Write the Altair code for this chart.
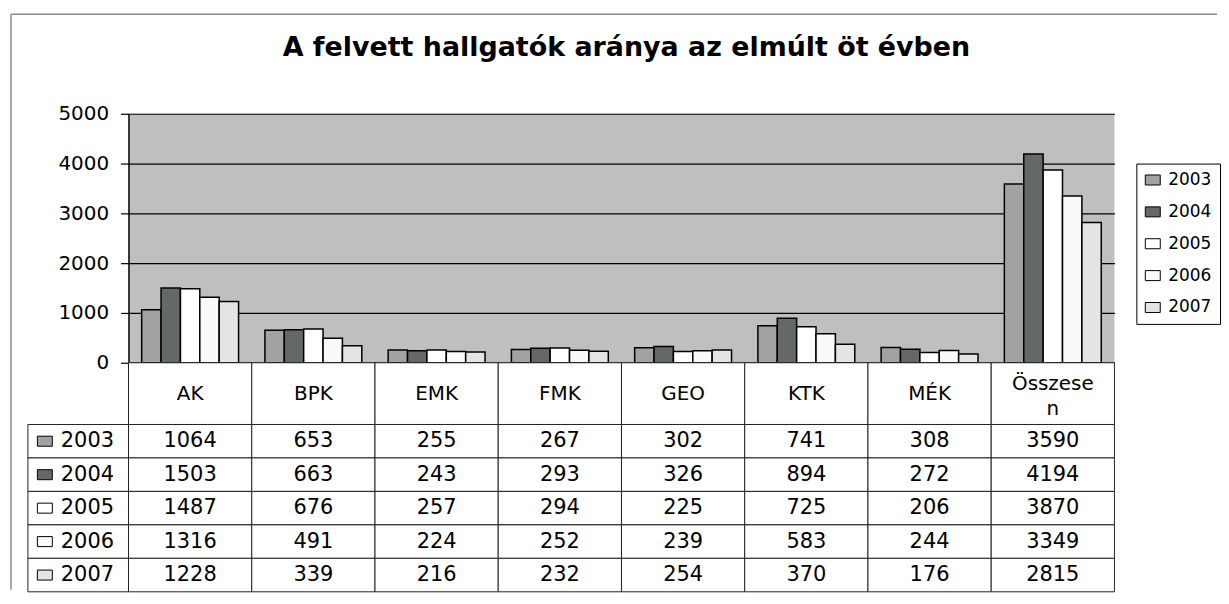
import altair as alt
import pandas as pd

# ---- data ----
categories = ["AK", "BPK", "EMK", "FMK", "GEO", "KTK", "MÉK", "Összesen"]
header_labels = ["AK", "BPK", "EMK", "FMK", "GEO", "KTK", "MÉK", "Összese\nn"]
years = ["2003", "2004", "2005", "2006", "2007"]
v2003 = [1064, 653, 255, 267, 302, 741, 308, 3590]
v2004 = [1503, 663, 243, 293, 326, 894, 272, 4194]
v2005 = [1487, 676, 257, 294, 225, 725, 206, 3870]
v2006 = [1316, 491, 224, 252, 239, 583, 244, 3349]
v2007 = [1228, 339, 216, 232, 254, 370, 176, 2815]
y_ticks = [0, 1000, 2000, 3000, 4000, 5000]
title_text = "A felvett hallgatók aránya az elmúlt öt évben"

# ---- styles ----
colors = ["#a2a2a2", "#656966", "#ffffff", "#fafafa", "#e4e4e4"]
FONT = "DejaVu Sans"
W = 990
SWATCH = "M-1,-0.67L1,-0.67L1,0.67L-1,0.67Z"

series = [v2003, v2004, v2005, v2006, v2007]
rows = []
for yr, vals in zip(years, series):
    for c, v in zip(categories, vals):
        rows.append({"kar": c, "ev": yr, "fo": v})
df = pd.DataFrame(rows)
hdr = pd.DataFrame({"kar": categories, "label": header_labels})
years_df = pd.DataFrame({"ev": years})
one = pd.DataFrame({"k": [0]})

x_scale = alt.Scale(domain=categories, paddingInner=0, paddingOuter=0)
color_scale = alt.Scale(domain=years, range=colors)
y_rows = alt.Y("ev:N", scale=alt.Scale(domain=years, paddingInner=0, paddingOuter=0), axis=None)

bars = alt.Chart(df).mark_bar(stroke="black", strokeWidth=1.5).encode(
    x=alt.X("kar:N", scale=x_scale, sort=categories,
            axis=alt.Axis(labels=False, ticks=False, title=None, grid=False,
                          domainColor="black", domainWidth=1.5)),
    xOffset=alt.XOffset("ev:N", scale=alt.Scale(domain=years, paddingInner=0, paddingOuter=0.68)),
    y=alt.Y("fo:Q", scale=alt.Scale(domain=[0, 5000], nice=False),
            axis=alt.Axis(values=y_ticks, format="d", title=None, grid=True,
                          gridColor="black", gridWidth=1.2, gridOpacity=1,
                          domainColor="black", domainWidth=1.5,
                          tickColor="black", tickSize=8, tickWidth=1.2,
                          labelPadding=12, labelFont=FONT, labelFontSize=20,
                          labelColor="black")),
    color=alt.Color("ev:N", scale=color_scale,
                    legend=alt.Legend(title=None, orient="none", legendX=1012, legendY=50,
                                      direction="vertical",
                                      symbolType=SWATCH, symbolSize=225,
                                      symbolStrokeColor="black", symbolStrokeWidth=1,
                                      symbolOpacity=1,
                                      labelFont=FONT, labelFontSize=17, labelColor="black",
                                      labelOffset=7, rowPadding=14,
                                      strokeColor="black", padding=8, fillColor="white")),
).properties(
    width=W, height=250,
    title=alt.TitleParams(text=title_text, font=FONT, fontSize=27, fontWeight="bold",
                          color="black", anchor="middle", frame="group", offset=42, dx=5),
    view=alt.ViewBackground(fill="#bfbfbf", strokeWidth=0),
)

x_tab = alt.X("kar:N", scale=x_scale, sort=categories, axis=None)

header_cells = alt.Chart(hdr).mark_rect(fill="white", stroke="#222", strokeWidth=1).encode(x=x_tab)
header_single = alt.Chart(hdr).transform_filter(
    "indexof(datum.label, '\\n') < 0"
).mark_text(font=FONT, fontSize=20, color="black").encode(x=x_tab, text="label:N")
header_multi = alt.Chart(hdr).transform_filter(
    "indexof(datum.label, '\\n') >= 0"
).mark_text(font=FONT, fontSize=20, color="black", lineBreak="\n", lineHeight=25, dy=-10).encode(
    x=x_tab, text="label:N")
header = alt.layer(header_cells, header_single, header_multi).properties(width=W, height=62)

cells = alt.Chart(df).mark_rect(fill="white", stroke="#222", strokeWidth=1).encode(x=x_tab, y=y_rows)
nums = alt.Chart(df).mark_text(font=FONT, fontSize=21, color="black").encode(
    x=x_tab, y=y_rows, text=alt.Text("fo:Q", format="d"))
label_cells = alt.Chart(years_df).mark_rect(fill="white", stroke="#222", strokeWidth=1).encode(
    x=alt.value(-101), x2=alt.value(0), y=y_rows)
swatches = alt.Chart(years_df).mark_point(shape=SWATCH, filled=True, size=225, stroke="black",
                                          strokeWidth=1, opacity=1).encode(
    x=alt.value(-84), y=y_rows, fill=alt.Fill("ev:N", scale=color_scale, legend=None))
year_labels = alt.Chart(years_df).mark_text(font=FONT, fontSize=21, color="black", align="left").encode(
    x=alt.value(-68), y=y_rows, text="ev:N")
frame_v = alt.Chart(one).mark_rule(color="#8a8a8a", strokeWidth=1.5).encode(
    x=alt.value(-118), y=alt.value(-412), y2=alt.value(166))
frame_h = alt.Chart(one).mark_rule(color="#8a8a8a", strokeWidth=1.5).encode(
    x=alt.value(-118), x2=alt.value(1093), y=alt.value(-412))
table = alt.layer(cells, nums, label_cells, swatches, year_labels, frame_v, frame_h).properties(
    width=W, height=168)

chart = alt.vconcat(bars, header, table, spacing=0, bounds="flush").resolve_scale(
    x="independent", y="independent", color="independent", fill="independent"
).properties(
    padding={"left": 2, "top": 4, "right": 0, "bottom": 0},
    background="white",
).configure_view(strokeWidth=0)

chart.save("out.html", embed_options={"renderer": "svg", "actions": False})
